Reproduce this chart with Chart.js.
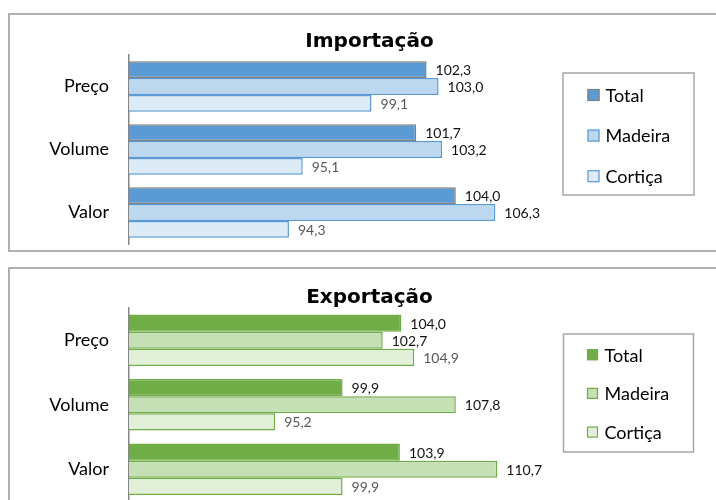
<!DOCTYPE html>
<html>
<head>
<meta charset="utf-8">
<script src="https://cdn.jsdelivr.net/npm/chart.js@4"></script>
<style>
    body { margin: 0; width: 716px; height: 500px; overflow: hidden; background: #fff; position: relative; }
    .caixa { position: absolute; left: 8px; width: 730px; border: 2px solid #b0b0b0; box-sizing: border-box; }
    canvas { position: absolute; left: 0; }
</style>
</head>
<body>
<div class="caixa" style="top:13px;height:239px"></div>
<div class="caixa" style="top:267px;height:300px"></div>
<canvas id="grafImport" width="716" height="252" style="top:0"></canvas>
<canvas id="grafExport" width="716" height="262" style="top:254px"></canvas>
<script>
// dados
const categorias = ['Preço', 'Volume', 'Valor'];
const nomesSeries = ['Total', 'Madeira', 'Cortiça'];

const importTotal = [102.3, 101.7, 104.0];
const importMadeira = [103.0, 103.2, 106.3];
const importCortica = [99.1, 95.1, 94.3];

const exportTotal = [104.0, 99.9, 103.9];
const exportMadeira = [102.7, 107.8, 110.7];
const exportCortica = [104.9, 95.2, 99.9];

const escalaImport = [85, 110];
const escalaExport = [85, 115];

const tituloImport = 'Importação';
const tituloExport = 'Exportação';

Chart.defaults.font.family = 'Lato';

// valores no fim de cada barra
const rotulos = {
    id: 'rotulos',
    afterDatasetsDraw(chart) {
        const ctx = chart.ctx;
        ctx.save();
        ctx.font = '14px Lato';
        ctx.textAlign = 'left';
        ctx.textBaseline = 'middle';
        chart.data.datasets.forEach(function (ds, i) {
            ctx.fillStyle = ds.corRotulo;
            chart.getDatasetMeta(i).data.forEach(function (bar, j) {
                ctx.fillText(ds.data[j].toFixed(1).replace('.', ','), bar.x + 9, bar.y + 1);
            });
        });
        ctx.restore();
    }
};

// titulo
const titulo = {
    id: 'titulo',
    afterDraw(chart, args, o) {
        const ctx = chart.ctx;
        ctx.save();
        ctx.font = 'bold 20px "DejaVu Sans"';
        ctx.textAlign = 'center';
        ctx.textBaseline = 'alphabetic';
        ctx.fillStyle = '#000';
        ctx.fillText(o.texto, o.x, o.y);
        ctx.restore();
    }
};

// legenda com moldura
const legenda = {
    id: 'legenda',
    afterDraw(chart, args, o) {
        const ctx = chart.ctx;
        ctx.save();
        ctx.strokeStyle = '#a6a6a6';
        ctx.lineWidth = 1.5;
        ctx.strokeRect(o.x, o.y, o.w, o.h);
        ctx.font = '18px Lato';
        ctx.textAlign = 'left';
        ctx.textBaseline = 'middle';
        chart.data.datasets.forEach(function (ds, i) {
            const cy = o.y0 + i * o.passo;
            ctx.fillStyle = ds.backgroundColor;
            ctx.fillRect(o.qx, cy - o.q / 2, o.q, o.q);
            ctx.strokeStyle = ds.borderColor;
            ctx.lineWidth = 1.2;
            ctx.strokeRect(o.qx + 0.5, cy - o.q / 2 + 0.5, o.q - 1, o.q - 1);
            ctx.fillStyle = '#000';
            ctx.fillText(ds.label, o.tx, cy + 1);
        });
        ctx.restore();
    }
};

function criarGrafico(id, valores, cores, bordas, escala, padding, tit, leg)
{
    const ctx = document.getElementById(id).getContext('2d');
    const coresRotulo = ['#111', '#111', '#595959'];
    return new Chart(ctx, {
        type: 'bar',
        data: {
            labels: categorias,
            datasets: valores.map(function (v, i) {
                return {
                    label: nomesSeries[i],
                    data: v,
                    backgroundColor: cores[i],
                    borderColor: bordas[i],
                    borderWidth: 1.5,
                    borderSkipped: 'start',
                    corRotulo: coresRotulo[i],
                    categoryPercentage: 0.8,
                    barPercentage: 1
                };
            })
        },
        options: {
            indexAxis: 'y',
            responsive: false,
            animation: false,
            layout: { padding: padding },
            scales: {
                x: { display: false, min: escala[0], max: escala[1] },
                y: {
                    grid: { display: false, drawTicks: false },
                    border: { display: true, color: '#868686', width: 1.5 },
                    ticks: { color: '#000', font: { size: 18 }, padding: 20 },
                    afterFit: function (scale) {
                        scale.width = 129;
                        scale.paddingTop = 0;
                        scale.paddingBottom = 0;
                    }
                }
            },
            plugins: {
                legend: { display: false },
                tooltip: { enabled: false },
                titulo: tit,
                legenda: leg
            }
        },
        plugins: [rotulos, titulo, legenda]
    });
}

criarGrafico('grafImport',
    [importTotal, importMadeira, importCortica],
    ['#5B9BD5', '#BDD7EE', '#DDEBF7'],
    ['#7f7f7f', '#5B9BD5', '#5B9BD5'],
    escalaImport,
    { top: 55, right: 157, bottom: 8, left: 0 },
    { texto: tituloImport, x: 369.5, y: 46.5 },
    { x: 563, y: 73, w: 131, h: 122, qx: 587.5, q: 12, y0: 95, passo: 40.6, tx: 605.5 }
);

criarGrafico('grafExport',
    [exportTotal, exportMadeira, exportCortica],
    ['#70AD47', '#C5E0B4', '#E2F0D9'],
    ['#70AD47', '#70AD47', '#70AD47'],
    escalaExport,
    { top: 54, right: 157, bottom: 14.5, left: 0 },
    { texto: tituloExport, x: 369.5, y: 48.7 },
    { x: 563.5, y: 80, w: 130, h: 118, qx: 587, q: 11, y0: 100.7, passo: 38.7, tx: 604.5 }
);
</script>
</body>
</html>
